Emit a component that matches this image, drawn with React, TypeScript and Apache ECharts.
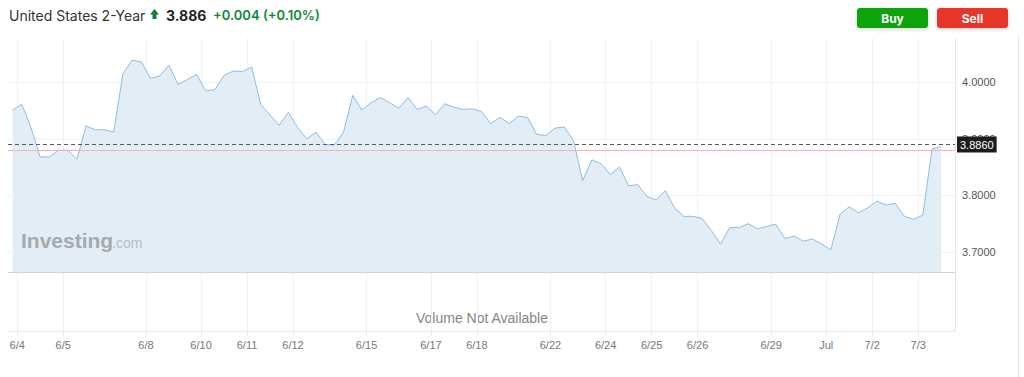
import React, { useEffect, useRef } from "react";
import * as echarts from "echarts";

// Hourly-ish closing yields of the US 2-Year note, in drawing order
const prices: number[] = [
  3.951, 3.961, 3.92, 3.868, 3.868, 3.88, 3.88, 3.864, 3.923, 3.916,
  3.916, 3.912, 4.015, 4.039, 4.036, 4.007, 4.011, 4.03, 3.996, 4.005,
  4.014, 3.985, 3.987, 4.012, 4.02, 4.019, 4.027, 3.96, 3.942, 3.924,
  3.947, 3.92, 3.9, 3.912, 3.89, 3.889, 3.912, 3.977, 3.951, 3.964,
  3.973, 3.964, 3.954, 3.973, 3.952, 3.958, 3.943, 3.962, 3.956, 3.952,
  3.953, 3.948, 3.927, 3.938, 3.927, 3.94, 3.938, 3.908, 3.906, 3.919,
  3.921, 3.897, 3.826, 3.863, 3.856, 3.837, 3.85, 3.817, 3.819, 3.798,
  3.792, 3.808, 3.778, 3.763, 3.763, 3.759, 3.738, 3.714, 3.743, 3.743,
  3.75, 3.741, 3.745, 3.749, 3.724, 3.728, 3.719, 3.723, 3.714, 3.704,
  3.767, 3.78, 3.769, 3.778, 3.79, 3.783, 3.786, 3.763, 3.758, 3.765,
  3.882, 3.886,
];

// Date labels on the time axis; each one falls between point i and point i+1
const tickLabels: string[] = [
  "6/4", "6/5", "6/8", "6/10", "6/11", "6/12", "6/15", "6/17", "6/18",
  "6/22", "6/24", "6/25", "6/26", "6/29", "Jul", "7/2", "7/3",
];
const tickAfterPoint: number[] = [
  0, 5, 14, 20, 25, 30, 38, 45, 50, 58, 64, 69, 74, 82, 88, 93, 98,
];

const lastPrice = 3.886;
const prevClose = 3.882;
const change = "+0.004";
const changePct = "(+0.10%)";
const yMin = 3.6646;
const yMax = 4.0783;

// half-step slots: a point every second slot, labels on the slots between
const slotCount = prices.length * 2 + 3;
const slots = Array.from({ length: slotCount }, (_, k) => String(k));
const seriesData = slots.map((_, k) =>
  k % 2 === 1 && (k - 1) / 2 < prices.length ? prices[(k - 1) / 2] : null
);
const labelMap: Record<number, string> = {};
tickAfterPoint.forEach((p, i) => {
  labelMap[p * 2 + 2] = tickLabels[i];
});
const isLabelSlot = (index: number) => labelMap[index] !== undefined;

const GRID_LEFT = 8;
const GRID_RIGHT = 69;

export default function App() {
  const ref = useRef<HTMLDivElement>(null);

  useEffect(() => {
    if (!ref.current) return;
    const chart = echarts.init(ref.current, undefined, { renderer: "svg" });
    const axisFont = "'Liberation Sans', Arial, sans-serif";
    const headFont = "Inter, 'Liberation Sans', Arial, sans-serif";

    chart.setOption({
      animation: false,
      backgroundColor: "#ffffff",
      grid: [
        { left: GRID_LEFT, right: GRID_RIGHT, top: 38, height: 234 },
        { left: GRID_LEFT, right: GRID_RIGHT, top: 272, height: 59 },
      ],
      xAxis: [
        {
          type: "category",
          gridIndex: 0,
          data: slots,
          boundaryGap: false,
          axisLine: { show: true, onZero: false, lineStyle: { color: "#cfd4da", width: 1 } },
          axisTick: { show: false },
          axisLabel: { show: false },
          splitLine: {
            show: true,
            interval: (index: number) => isLabelSlot(index),
            lineStyle: { color: "#f0f2f5", width: 1 },
          },
        },
        {
          type: "category",
          gridIndex: 1,
          data: slots,
          boundaryGap: false,
          axisLine: { show: true, onZero: false, lineStyle: { color: "#e6e9ee", width: 1 } },
          axisTick: {
            show: true,
            length: 5,
            interval: (index: number) => isLabelSlot(index),
            lineStyle: { color: "#e6e9ee" },
          },
          axisLabel: {
            show: true,
            interval: (index: number) => isLabelSlot(index),
            formatter: (value: string) => labelMap[Number(value)] ?? "",
            color: "#777777",
            fontSize: 11,
            fontFamily: axisFont,
            margin: 8,
          },
          splitLine: {
            show: true,
            interval: (index: number) => isLabelSlot(index),
            lineStyle: { color: "#f0f2f5", width: 1 },
          },
        },
      ],
      yAxis: [
        {
          type: "value",
          gridIndex: 0,
          position: "right",
          min: yMin,
          max: yMax,
          splitNumber: 4,
          axisLine: { show: true, lineStyle: { color: "#e3e6ea" } },
          axisTick: { show: false },
          axisLabel: {
            formatter: (v: number) => v.toFixed(4),
            color: "#555555",
            fontSize: 11,
            fontFamily: axisFont,
            margin: 7,
            showMinLabel: false,
            showMaxLabel: false,
          },
          splitLine: {
            show: true,
            showMinLine: false,
            showMaxLine: false,
            lineStyle: { color: "#f0f1f3", width: 1 },
          },
        },
        {
          type: "value",
          gridIndex: 1,
          position: "right",
          min: 0,
          max: 1,
          axisLine: { show: true, lineStyle: { color: "#e3e6ea" } },
          axisTick: { show: false },
          axisLabel: { show: false },
          splitLine: { show: false },
        },
      ],
      series: [
        {
          type: "line",
          xAxisIndex: 0,
          yAxisIndex: 0,
          data: seriesData,
          connectNulls: true,
          showSymbol: false,
          symbol: "none",
          lineStyle: { color: "#8dbde2", width: 1 },
          areaStyle: { color: "#e3edf5", opacity: 1, origin: "start" },
          markLine: {
            silent: true,
            symbol: "none",
            animation: false,
            data: [
              {
                yAxis: prevClose,
                lineStyle: { color: "#f5b3b3", type: "solid", width: 1 },
                label: { show: false },
              },
              {
                yAxis: lastPrice,
                lineStyle: { color: "#5a5a5a", type: [4, 3], width: 1 },
                label: {
                  show: true,
                  position: "end",
                  distance: 2,
                  formatter: () => lastPrice.toFixed(4),
                  color: "#ffffff",
                  backgroundColor: "#1c1c1c",
                  padding: [3, 3, 2, 3],
                  fontSize: 11,
                  fontFamily: axisFont,
                },
              },
            ],
          },
        },
      ],
      graphic: [
        {
          type: "text",
          x: 9,
          y: 15,
          style: {
            text: "United States 2-Year",
            fill: "#333333",
            fontSize: 14,
            fontFamily: headFont,
            textVerticalAlign: "middle",
            verticalAlign: "middle",
          },
        },
        {
          type: "polygon",
          shape: {
            points: [
              [150, 14.5],
              [154.5, 9],
              [159, 14.5],
              [156.5, 14.5],
              [156.5, 19],
              [152.5, 19],
              [152.5, 14.5],
            ],
          },
          style: { fill: "#157a3a" },
        },
        {
          type: "text",
          x: 166,
          y: 15,
          style: {
            text: lastPrice.toFixed(3),
            fill: "#232526",
            fontSize: 14,
            fontWeight: "bold",
            fontFamily: headFont,
            textVerticalAlign: "middle",
            verticalAlign: "middle",
          },
        },
        {
          type: "text",
          x: 213,
          y: 15,
          style: {
            text: change,
            fill: "#0f8a3c",
            fontSize: 13,
            fontWeight: 600,
            fontFamily: headFont,
            textVerticalAlign: "middle",
            verticalAlign: "middle",
          },
        },
        {
          type: "text",
          x: 263,
          y: 15,
          style: {
            text: changePct,
            fill: "#0f8a3c",
            fontSize: 13,
            fontWeight: 600,
            fontFamily: headFont,
            textVerticalAlign: "middle",
            verticalAlign: "middle",
          },
        },
        {
          type: "rect",
          shape: { x: 857, y: 8, width: 71, height: 20, r: 3 },
          style: {
            fill: "#0fa30f",
            shadowBlur: 4,
            shadowColor: "rgba(0,0,0,0.18)",
            shadowOffsetY: 1,
          },
        },
        {
          type: "text",
          x: 892.5,
          y: 18,
          style: {
            text: "Buy",
            fill: "#ffffff",
            fontSize: 12,
            fontWeight: "bold",
            fontFamily: headFont,
            textAlign: "center",
            align: "center",
            textVerticalAlign: "middle",
            verticalAlign: "middle",
          },
        },
        {
          type: "rect",
          shape: { x: 937, y: 8, width: 71, height: 20, r: 3 },
          style: {
            fill: "#e8362c",
            shadowBlur: 4,
            shadowColor: "rgba(0,0,0,0.18)",
            shadowOffsetY: 1,
          },
        },
        {
          type: "text",
          x: 972.5,
          y: 18,
          style: {
            text: "Sell",
            fill: "#ffffff",
            fontSize: 12,
            fontWeight: "bold",
            fontFamily: headFont,
            textAlign: "center",
            align: "center",
            textVerticalAlign: "middle",
            verticalAlign: "middle",
          },
        },
        {
          type: "text",
          x: 21,
          y: 251,
          z: 10,
          style: {
            text: "Investing",
            fill: "#a6aaae",
            fontSize: 21,
            fontWeight: "bold",
            fontFamily: axisFont,
            textVerticalAlign: "bottom",
            verticalAlign: "bottom",
          },
        },
        {
          type: "text",
          x: 112,
          y: 250,
          z: 10,
          style: {
            text: ".com",
            fill: "#b9bdc1",
            fontSize: 14,
            fontFamily: axisFont,
            textVerticalAlign: "bottom",
            verticalAlign: "bottom",
          },
        },
        {
          type: "text",
          x: 482,
          y: 318,
          style: {
            text: "Volume Not Available",
            fill: "#858585",
            fontSize: 14,
            fontFamily: axisFont,
            textAlign: "center",
            align: "center",
            textVerticalAlign: "middle",
            verticalAlign: "middle",
          },
        },
        {
          type: "line",
          shape: { x1: 1018.5, y1: 36, x2: 1018.5, y2: 377 },
          style: { stroke: "#e4e6e9", lineWidth: 1 },
        },
      ],
    });

    return () => chart.dispose();
  }, []);

  return (
    <div
      ref={ref}
      style={{ position: "fixed", left: 0, top: 0, width: 1024, height: 377 }}
    />
  );
}
